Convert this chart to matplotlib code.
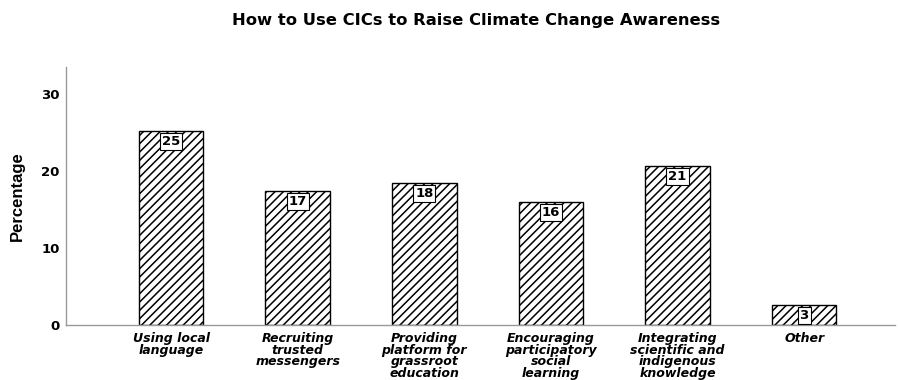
import numpy as np
import matplotlib
matplotlib.use('Agg')
import matplotlib.pyplot as plt

plt.rcParams['font.family'] = ['DejaVu Sans']
plt.rcParams['hatch.linewidth'] = 1.1

# data
categories = ['Using local\nlanguage', 'Recruiting\ntrusted\nmessengers',
              'Providing\nplatform for\ngrassroot\neducation',
              'Encouraging\nparticipatory\nsocial\nlearning',
              'Integrating\nscientific and\nindigenous\nknowledge', 'Other']
percent = [25.2, 17.4, 18.4, 16.0, 20.6, 2.6]
yticks = [0, 10, 20, 30]

fig = plt.figure(figsize=(8.98, 3.8), dpi=100)
ax = fig.add_axes([0.0735, 0.145, 0.9235, 0.679])

x = np.arange(len(categories))
bars = ax.bar(x, percent, width=0.51, color='white', edgecolor='black',
              hatch='////', linewidth=1.0)

for b, v in zip(bars, percent):
    ax.annotate('%.0f' % v, (b.get_x() + b.get_width() / 2, v),
                xytext=(0, -7.5), textcoords='offset points',
                ha='center', va='center', fontsize=9.5, fontweight='bold',
                bbox=dict(boxstyle='square,pad=0.15', fc='white', ec='black', lw=0.8))

ax.set_xlim(-0.83, 5.72)
ax.set_ylim(0, 33.5)
ax.set_yticks(yticks)
ax.set_xticks(x)
ax.set_xticklabels(categories, fontsize=9, fontweight='bold', style='italic',
                   linespacing=0.88, va='top')
ax.tick_params(axis='both', length=0)
ax.tick_params(axis='y', labelsize=9.5, pad=4.5)
for lab in ax.get_yticklabels():
    lab.set_fontweight('bold')
ax.tick_params(axis='x', pad=5)

for s in ['top', 'right']:
    ax.spines[s].set_visible(False)
for s in ['left', 'bottom']:
    ax.spines[s].set_color('#999999')
    ax.spines[s].set_linewidth(1.0)

ax.set_ylabel('Percentage', fontsize=12, fontweight='bold',
              family=['Liberation Sans Narrow', 'Liberation Sans'], labelpad=12)
fig.suptitle('How to Use CICs to Raise Climate Change Awareness',
             x=0.53, y=0.965, fontsize=11.8, fontweight='bold')

fig.savefig('out.png', dpi=100)
